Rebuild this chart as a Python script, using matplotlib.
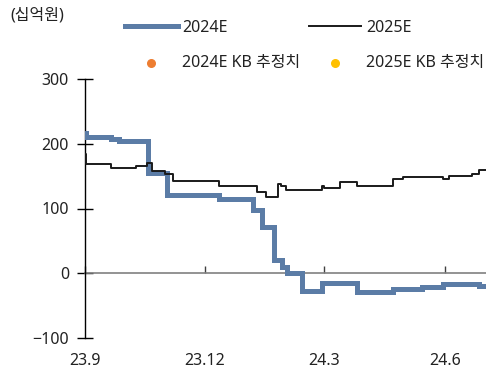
import pandas as pd
import matplotlib
matplotlib.use("Agg")
import matplotlib.pyplot as plt

plt.rcParams['font.family'] = ['Noto Sans', 'Noto Sans CJK KR', 'DejaVu Sans']
plt.rcParams['axes.unicode_minus'] = True

# 영업이익 컨센서스 추이 (십억원)
dates_24 = ["2023-09-01", "2023-09-02", "2023-09-21", "2023-09-27", "2023-10-19",
            "2023-11-02", "2023-12-12", "2024-01-07", "2024-01-14", "2024-01-23",
            "2024-01-29", "2024-02-02", "2024-02-13", "2024-02-28", "2024-03-26",
            "2024-04-22", "2024-05-01", "2024-05-14", "2024-05-30", "2024-06-27",
            "2024-07-02"]
cons_24 = [217, 211, 208, 205, 155,
           121, 114, 97, 72, 20,
           10, 0, -28, -15, -29,
           -25, -24, -21, -17, -20,
           -20]

dates_25 = ["2023-09-01", "2023-09-02", "2023-09-21", "2023-10-10", "2023-10-18",
            "2023-10-22", "2023-11-01", "2023-11-07", "2023-12-12", "2024-01-10",
            "2024-01-17", "2024-01-26", "2024-01-28", "2024-02-01", "2024-02-28",
            "2024-03-01", "2024-03-13", "2024-03-26", "2024-04-22", "2024-04-30",
            "2024-05-07", "2024-05-30", "2024-06-04", "2024-06-21", "2024-06-27",
            "2024-07-02"]
cons_25 = [184, 169, 163, 166, 171,
           158, 154, 143, 135, 125,
           118, 138, 135, 129, 135,
           131, 141, 135, 146, 149,
           148, 146, 150, 154, 160,
           160]

# KB 추정치 (표시할 값 없음)
kb_dates, kb_24, kb_25 = [], [], []

x_ticks = ["2023-09-01", "2023-12-01", "2024-03-01", "2024-06-01"]
x_labels = ["23.9", "23.12", "24.3", "24.6"]
y_ticks = [-100, 0, 100, 200, 300]

d24 = pd.to_datetime(dates_24)
d25 = pd.to_datetime(dates_25)
xt = pd.to_datetime(x_ticks)

fig = plt.figure(figsize=(4.86, 3.69), dpi=100)
ax = fig.add_axes([85 / 486, 1 - 338 / 369, 1 - 85 / 486, 259 / 369])

ax.plot(d24, cons_24, drawstyle="steps-post", color="#5b7ca6", lw=3.6,
        solid_joinstyle="miter", label="2024E", zorder=3)
ax.plot(d25, cons_25, drawstyle="steps-post", color="#1a1a1a", lw=1.4,
        label="2025E", zorder=4)
ax.scatter(pd.to_datetime(kb_dates), kb_24, color="#ed7d31", s=30, label="2024E KB 추정치")
ax.scatter(pd.to_datetime(kb_dates), kb_25, color="#ffc000", s=30, label="2025E KB 추정치")

ax.set_xlim(pd.Timestamp("2023-09-01"), pd.Timestamp("2024-07-02"))
ax.set_ylim(-100, 300)

for s in ["top", "right"]:
    ax.spines[s].set_visible(False)
ax.spines["left"].set_color("black")
ax.spines["left"].set_linewidth(1.0)
ax.spines["bottom"].set_position(("data", 0))
ax.spines["bottom"].set_color("#808080")
ax.spines["bottom"].set_linewidth(1.2)
ax.spines["bottom"].set_zorder(2)

ax.set_yticks(y_ticks)
ax.tick_params(axis="y", direction="inout", length=11, width=1.0, pad=6,
               labelsize=11.5, labelcolor="#222222")
ax.set_xticks(xt)
ax.set_xticklabels([])
ax.tick_params(axis="x", direction="in", length=5, width=1.0, color="#404040")

for t, lab in zip(xt, x_labels):
    ax.text(t, -0.09, lab, transform=ax.get_xaxis_transform(), ha="center",
            va="center", fontsize=11.5, color="#222222")

fig.text(10 / 486, 1 - 16 / 369, "(십억원)", fontsize=11.5, color="#222222",
         ha="left", va="center")

h, l = ax.get_legend_handles_labels()
order = [0, 2, 1, 3]
fig.legend([h[i] for i in order], [l[i] for i in order], ncol=2,
           loc="upper left", bbox_to_anchor=(125 / 486, 1 - 20 / 369),
           frameon=False, fontsize=11.5, handlelength=3.3, handletextpad=0.3,
           columnspacing=0.5, labelspacing=1.2, borderpad=0, borderaxespad=0,
           labelcolor="#222222")

fig.savefig("out.png", dpi=100)
